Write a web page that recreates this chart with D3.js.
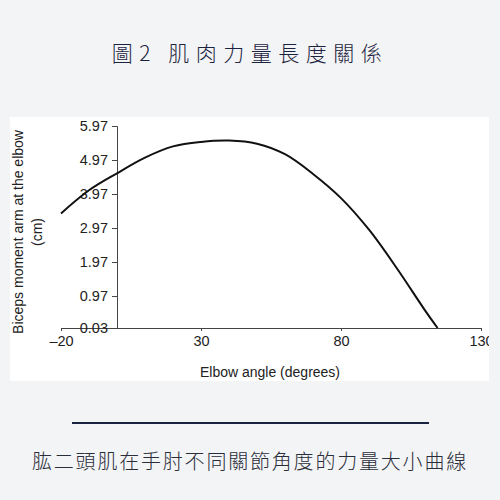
<!DOCTYPE html>
<html lang="zh-Hant">
<head>
<meta charset="UTF-8">
<script src="https://cdn.jsdelivr.net/npm/d3@7"></script>
<style>
  body { margin: 0; background: #f3f4f5; }
  svg { display: block; }
  .tick text { font-family: "Liberation Sans", Arial, sans-serif; font-size: 14.5px; fill: #222; }
</style>
</head>
<body>
<div id="chart"></div>
<script>
// elbow angle (degrees) and biceps moment arm (cm)
const angles = [-20, -10, 0, 10, 20, 30, 40, 50, 60, 70, 80, 90, 100, 110, 114.5];
const momentArm = [3.40, 4.08, 4.58, 5.04, 5.37, 5.50, 5.54, 5.45, 5.14, 4.56, 3.85, 2.92, 1.78, 0.55, 0.03];
const xTicks = [-20, 30, 80, 130];
const yTicks = [0.03, 0.97, 1.97, 2.97, 3.97, 4.97, 5.97];

const title = "圖2 肌肉力量長度關係";
const caption = "肱二頭肌在手肘不同關節角度的力量大小曲線";
const xLabel = "Elbow angle (degrees)";
const yLabel = ["Biceps moment arm at the elbow", "(cm)"];

const W = 500, H = 500;
const svg = d3.select("#chart").append("svg")
  .attr("width", W).attr("height", H);

// title
svg.append("text")
  .attr("x", 250).attr("y", 61)
  .attr("text-anchor", "middle")
  .style("font-family", "'Noto Sans CJK TC', sans-serif")
  .style("font-weight", 300)
  .style("font-size", "21px")
  .style("letter-spacing", "6.5px")
  .attr("fill", "#1c2340")
  .text(title);

// white panel holding the chart
svg.append("clipPath").attr("id", "panelClip")
  .append("rect").attr("x", 10).attr("y", 117).attr("width", 479).attr("height", 264);
const panel = svg.append("g").attr("clip-path", "url(#panelClip)");
panel.append("rect")
  .attr("x", 10).attr("y", 117).attr("width", 479).attr("height", 264)
  .attr("fill", "#ffffff");

const x = d3.scaleLinear().domain([-20, 130]).range([61, 481]);
const y = d3.scaleLinear().domain([0.03, 5.97]).range([328, 126]);

// x axis
const xAxis = panel.append("g")
  .attr("transform", `translate(0,${y(0.03)})`)
  .call(d3.axisBottom(x).tickValues(xTicks).tickSize(3).tickPadding(5)
    .tickFormat(d => d < 0 ? "\u2013" + Math.abs(d) : d));
xAxis.select(".domain").attr("stroke", "#444");
xAxis.selectAll(".tick line").attr("stroke", "#444");

// y axis at angle 0
const yAxis = panel.append("g")
  .attr("transform", `translate(${x(0)},0)`)
  .call(d3.axisLeft(y).tickValues(yTicks).tickSize(5).tickPadding(4)
    .tickFormat(d3.format(".2f")));
yAxis.select(".domain").attr("stroke", "#444");
yAxis.selectAll(".tick line").attr("stroke", "#444");

// curve
const line = d3.line()
  .x((d, i) => x(angles[i]))
  .y(d => y(d))
  .curve(d3.curveCatmullRom);
panel.append("path")
  .datum(momentArm)
  .attr("d", line)
  .attr("fill", "none")
  .attr("stroke", "#111")
  .attr("stroke-width", 2);

// axis titles
panel.append("text")
  .attr("x", 270).attr("y", 377)
  .attr("text-anchor", "middle")
  .style("font-family", "'Liberation Sans', Arial, sans-serif")
  .style("font-size", "14px")
  .attr("fill", "#222")
  .text(xLabel);

yLabel.forEach((t, i) => {
  panel.append("text")
    .attr("transform", `translate(${23 + i * 19},232) rotate(-90)`)
    .attr("text-anchor", "middle")
    .style("font-family", "'Liberation Sans', Arial, sans-serif")
    .style("font-size", "14px")
    .attr("fill", "#222")
    .text(t);
});

// separator and caption
svg.append("line")
  .attr("x1", 72).attr("x2", 429).attr("y1", 423).attr("y2", 423)
  .attr("stroke", "#1c2340").attr("stroke-width", 2);

svg.append("text")
  .attr("x", 250).attr("y", 469)
  .attr("text-anchor", "middle")
  .style("font-family", "'Noto Sans CJK TC', sans-serif")
  .style("font-weight", 300)
  .style("font-size", "20px")
  .style("letter-spacing", "1.8px")
  .attr("fill", "#2a2d3a")
  .text(caption);
</script>
</body>
</html>
